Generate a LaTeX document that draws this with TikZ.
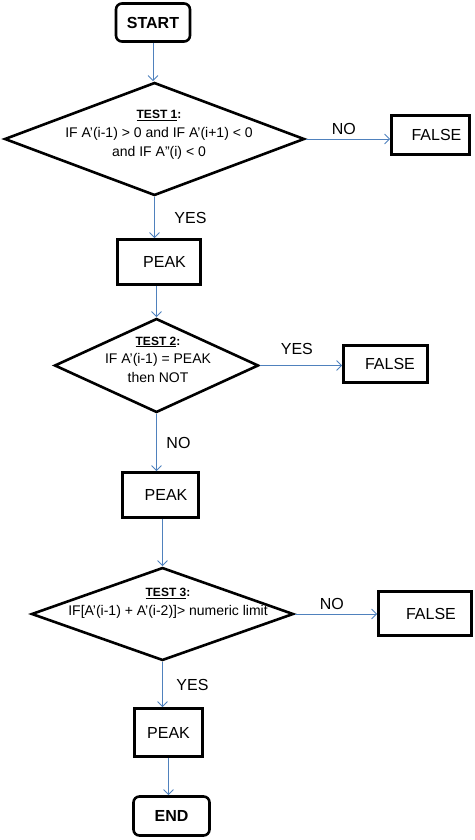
\documentclass[tikz,border=0pt]{standalone}
\usepackage{fontspec}
\setmainfont{Liberation Sans}
\usepackage{tikz}
\usetikzlibrary{arrows.meta, positioning, shapes.geometric}
\usepackage{xcolor}
\definecolor{flowblue}{RGB}{79,129,189}
\newcommand{\testhead}[1]{{\fontsize{12}{14}\selectfont\bfseries\underline{#1}:}}

\begin{document}
\begin{tikzpicture}[x=1pt, y=-1pt,
  every node/.style={font=\fontsize{16}{19}\selectfont},
  box/.style={draw, line width=2.6pt, inner sep=2pt},
  term/.style={box, rounded corners=6pt, font=\fontsize{16}{19}\selectfont\bfseries},
  decision/.style={diamond, draw, line width=2.6pt, inner sep=0pt},
  dtext/.style={align=center, font=\fontsize{14}{19}\selectfont},
  flow/.style={draw=flowblue, line width=0.9pt, -{Straight Barb[length=5pt,width=10pt]}},
  lbl/.style={inner sep=2pt}]
  \useasboundingbox (0,0) rectangle (474,840);
  \node[term, minimum width=74pt, minimum height=38pt] (start) at (153,22.5) {START};
  \node[decision, minimum width=300pt, minimum height=113pt] (test1) at (154.5,139) {};
  \node[dtext] (test1txt) at (159,135) {\testhead{TEST 1}\\IF A'(i-1) > 0 and IF A'(i+1) < 0\\and IF A"(i) < 0};
  \node[box, minimum width=78pt, minimum height=39pt] (false1) at (430.5,135) {\hspace*{12pt}FALSE};
  \node[box, minimum width=83pt, minimum height=45pt] (peak1) at (159,262) {\hspace*{11pt}PEAK};
  \node[decision, minimum width=204pt, minimum height=94pt] (test2) at (156.5,365.5) {};
  \node[dtext, font=\fontsize{14}{18.5}\selectfont] (test2txt) at (158,359.5) {\testhead{TEST 2}\\IF A'(i-1) = PEAK\\then NOT};
  \node[box, minimum width=84pt, minimum height=37pt] (false2) at (385.5,364) {\hspace*{9pt}FALSE};
  \node[box, minimum width=76pt, minimum height=45pt] (peak2) at (160.5,495) {\hspace*{11pt}PEAK};
  \node[decision, minimum width=262pt, minimum height=93pt] (test3) at (162.5,614) {};
  \node[dtext] (test3txt) at (168,603.5) {\testhead{TEST 3}\\IF[A'(i-1) + A'(i-2)]> numeric limit};
  \node[box, minimum width=93pt, minimum height=44pt] (false3) at (425,613.5) {\hspace*{12pt}FALSE};
  \node[box, minimum width=68pt, minimum height=48pt] (peak3) at (168.5,732.5) {PEAK};
  \node[term, minimum width=76pt, minimum height=39pt] (stop) at (171.5,816) {END};

  \draw[flow] (start.south) -- (start.south |- test1.north);
  \draw[flow] (test1.east) -- node[lbl, above=2pt, pos=0.45]{NO} (test1.east -| false1.west);
  \draw[flow] (test1.south) -- node[lbl, right=17.5pt]{YES} (test1.south |- peak1.north);
  \draw[flow] (test2.north |- peak1.south) -- (test2.north);
  \draw[flow] (test2.east) -- node[lbl, above=8pt, pos=0.45]{YES} (test2.east -| false2.west);
  \draw[flow] (test2.south) -- node[lbl, right=7.5pt]{NO} (test2.south |- peak2.north);
  \draw[flow] (test3.north |- peak2.south) -- (test3.north);
  \draw[flow] (test3.east) -- node[lbl, above=2pt, pos=0.45]{NO} (test3.east -| false3.west);
  \draw[flow] (test3.south) -- node[lbl, right=11.5pt]{YES} (test3.south |- peak3.north);
  \draw[flow] (peak3.south) -- (peak3.south |- stop.north);
\end{tikzpicture}
\end{document}
